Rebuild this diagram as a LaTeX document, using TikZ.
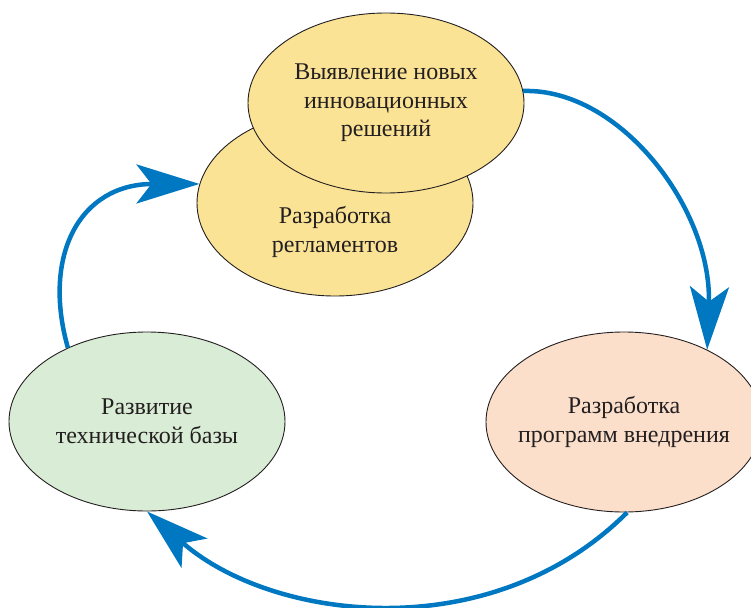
\documentclass[tikz,border=0pt]{standalone}
\usepackage{fontspec}
\setmainfont{Liberation Serif}
\usetikzlibrary{shapes.geometric,arrows.meta}
\definecolor{ylw}{HTML}{FBE396}
\definecolor{grn}{HTML}{D9ECD5}
\definecolor{pnk}{HTML}{FBDFCB}
\definecolor{arrowblue}{HTML}{0077C1}
\definecolor{outl}{HTML}{231F20}
\begin{document}
\begin{tikzpicture}[x=1pt,y=-1pt,
  bub/.style={ellipse,draw=outl,line width=0.9pt,minimum width=276pt,minimum height=180pt,
    inner xsep=-40pt,inner ysep=0pt,
    align=center,font=\fontsize{24}{28.5}\selectfont,text=outl},
  lbl/.style={align=center,font=\fontsize{24}{28.5}\selectfont,text=outl},
  flow/.style={draw=arrowblue,line width=4.5pt,-{Stealth[length=63pt,width=39pt,inset=15pt]}}]
\useasboundingbox (0,0) rectangle (751,607);
% ellipses
\node[bub,fill=ylw,minimum height=186pt] (reg) at (335,203) {};
\node[lbl] (regtext) at (335,232) {Разработка\\регламентов};
\node[bub,fill=ylw] (idea) at (386,103) {Выявление новых\\инновационных\\решений};
\node[bub,fill=grn,minimum height=179pt] (tech) at (147,421.5) {Развитие\\технической базы};
\node[bub,fill=pnk] (prog) at (624,422) {Разработка\\программ внедрения};
% arrows
\draw[flow] (idea.5) .. controls +(97,-3) and +(5,-140) .. (prog.41);
\draw[flow] (prog.-88) .. controls +(-136,136) and +(125,110) .. (tech.-90);
\draw[flow] (tech.137) .. controls +(-26,-92) and +(-120,0) .. (reg.172);
\end{tikzpicture}
\end{document}
